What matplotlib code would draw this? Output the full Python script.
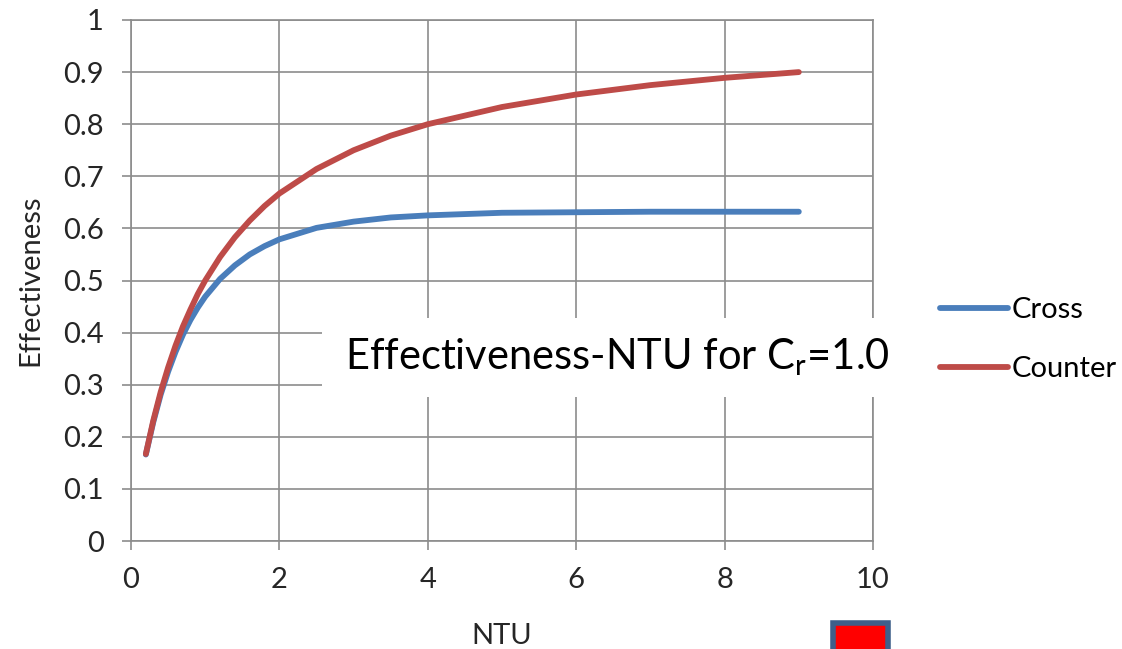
import matplotlib
matplotlib.use("Agg")
import matplotlib.pyplot as plt
from matplotlib.patches import Rectangle

plt.rcParams['font.family'] = ['Lato', 'DejaVu Sans']

# effectiveness vs NTU, heat capacity ratio Cr = 1.0
ntu = [0.2, 0.3, 0.4, 0.5, 0.6, 0.7, 0.8, 0.9, 1.0, 1.2, 1.4, 1.6, 1.8, 2.0,
       2.5, 3.0, 3.5, 4.0, 5.0, 6.0, 7.0, 8.0, 9.0]
cross = [0.166, 0.228, 0.281, 0.325, 0.363, 0.396, 0.424, 0.448, 0.469, 0.503, 0.529,
         0.550, 0.566, 0.579, 0.601, 0.613, 0.621, 0.625, 0.630, 0.631, 0.632, 0.632, 0.632]
counter = [0.167, 0.231, 0.286, 0.333, 0.375, 0.412, 0.444, 0.474, 0.500, 0.545, 0.583,
           0.615, 0.643, 0.667, 0.714, 0.750, 0.778, 0.800, 0.833, 0.857, 0.875, 0.889, 0.900]
xticks = [0, 2, 4, 6, 8, 10]
yticks = [0, 0.1, 0.2, 0.3, 0.4, 0.5, 0.6, 0.7, 0.8, 0.9, 1]
ytick_labels = ['0', '0.1', '0.2', '0.3', '0.4', '0.5', '0.6', '0.7', '0.8', '0.9', '1']

W, H = 1122, 649
fig = plt.figure(figsize=(W / 100, H / 100), dpi=100)
ax = fig.add_axes([131 / W, 1 - 541 / H, 742 / W, 521 / H])

grid_c = '#8c8c8c'
txt_c = '#262626'
ax.plot(ntu, cross, color='#4a7ebb', lw=4.2, solid_capstyle='round', label='Cross', zorder=3)
ax.plot(ntu, counter, color='#be4b48', lw=4.2, solid_capstyle='round', label='Counter', zorder=3)

ax.set_xlim(0, 10)
ax.set_ylim(0, 1)
ax.set_xticks(xticks)
ax.set_yticks(yticks)
ax.set_yticklabels(ytick_labels)
ax.grid(True, color=grid_c, lw=1.2)
ax.set_axisbelow(True)
for s in ax.spines.values():
    s.set_color(grid_c)
    s.set_linewidth(1.2)
ax.tick_params(axis='both', colors=grid_c, length=6.5, width=1.2, labelsize=21,
               labelcolor=txt_c)
ax.tick_params(axis='y', pad=13)
ax.tick_params(axis='x', pad=12)
ax.set_xlabel('NTU', fontsize=21, color=txt_c, labelpad=22)
ax.set_ylabel('Effectiveness', fontsize=21, color=txt_c, labelpad=14)

ax.legend(loc='center left', bbox_to_anchor=(940 / W, 1 - 339.5 / H),
          bbox_transform=fig.transFigure, frameon=False, fontsize=21,
          handlelength=2.33, handletextpad=0.14, labelspacing=1.14,
          borderpad=0, borderaxespad=0)

# title box sitting over the grid
fig.patches.append(Rectangle((322 / W, 1 - 397 / H), 583 / W, 79 / H,
                             transform=fig.transFigure, facecolor='white',
                             edgecolor='none', zorder=2))
fig.text(617 / W, 1 - 357 / H, r'Effectiveness-NTU for C$_\mathregular{r}$=1.0',
         fontsize=30, color='black', ha='center', va='center', zorder=3)

# small marker box at the bottom
fig.patches.append(Rectangle((833 / W, 1 - 652 / H), 55 / W, 29 / H,
                             transform=fig.transFigure, facecolor='#ff0000',
                             edgecolor='#3e5f8a', lw=4, zorder=2))

fig.savefig('out.png', dpi=100)
